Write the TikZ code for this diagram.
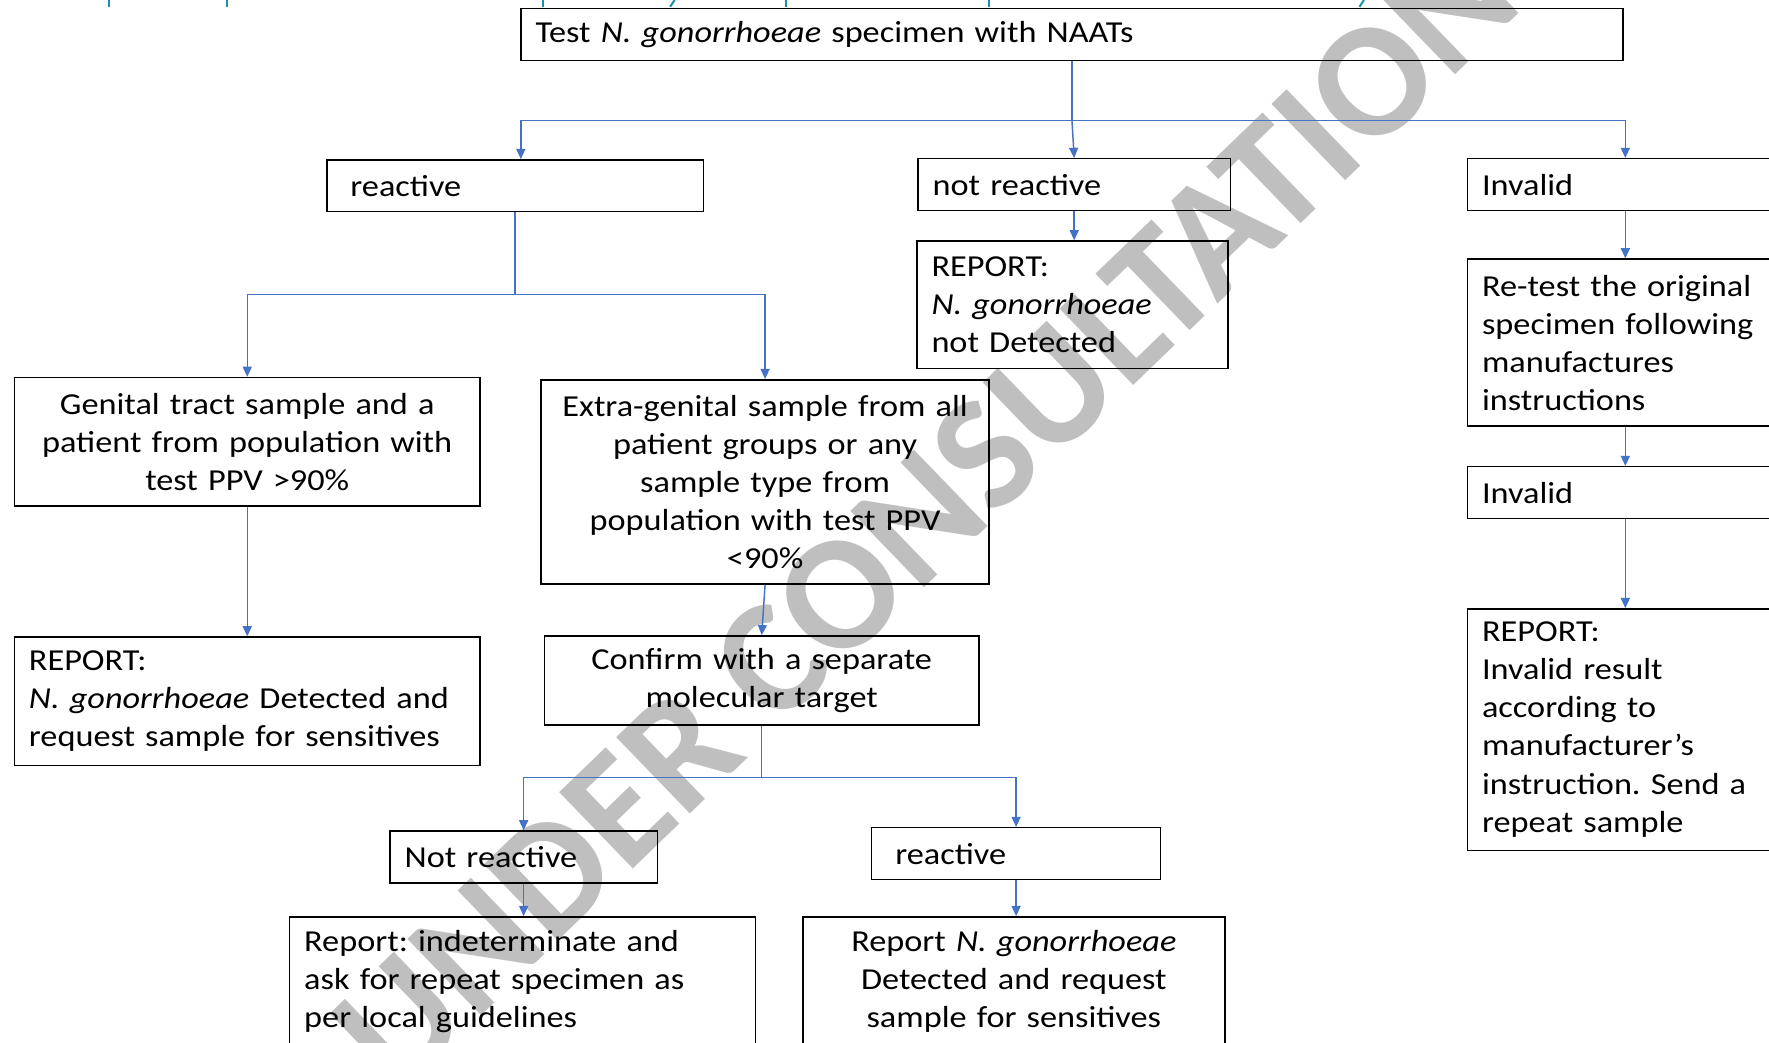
\documentclass[tikz,border=0pt]{standalone}
\usepackage{fontspec}
\setmainfont{Carlito}[FakeStretch=1.125]
\newfontfamily\wmfont{Carlito}
\usetikzlibrary{arrows.meta,calc}
\definecolor{connc}{HTML}{4472C4}
\definecolor{wmc}{HTML}{BFBFBF}
\definecolor{tealc}{HTML}{1A8FB0}
\tikzset{
  box/.style={draw=black, line width=1.3pt, inner xsep=13pt, inner ysep=0pt, anchor=north west,
    font=\fontsize{27}{33.7}\selectfont\frenchspacing},
  lbox/.style={box, align=left},
  cbox/.style={box, align=center},
  conn/.style={draw=connc, line width=1.3pt},
  arr/.style={conn, -{Triangle[width=8pt,length=9pt]}},
  frag/.style={draw=tealc, line width=1.8pt},
}
\begin{document}
\begin{tikzpicture}[x=1pt,y=-1pt]
\clip (0,0) rectangle (1568,924);
\fill[white] (0,0) rectangle (1568,924);
% watermark
\node[text=wmc, rotate=44, font=\wmfont\bfseries\fontsize{145}{145}\selectfont] (wm) at (820,455) {UNDER CONSULTATION};
% teal fragments of a cut-off line
\foreach \x in {97,201,481,697,877} \draw[frag] (\x,0) -- (\x,6);
\draw[frag] (598,0) -- (594,6);
\draw[frag] (1209,0) -- (1205,6);
% boxes
\node[lbox, text width=951pt, minimum height=46pt] (top) at (461,7) {\raisebox{-3pt}{Test \textit{N. gonorrhoeae} specimen with NAATs}};
\node[lbox, text width=308pt, minimum height=46pt] (rea) at (289,141) {\hspace*{8pt}reactive};
\node[lbox, text width=251pt, minimum height=46pt] (notr) at (813,140) {not reactive};
\node[lbox, text width=254pt, minimum height=46pt] (inv1) at (1300,140) {Invalid};
\node[lbox, text width=250pt, minimum height=113pt] (rep1) at (812,213) {REPORT:\\\textit{N. gonorrhoeae}\\not Detected};
\node[lbox, text width=254pt, minimum height=148pt] (retest) at (1300,229) {Re-test the original\\specimen following\\manufactures\\instructions};
\node[lbox, text width=254pt, minimum height=46pt] (inv2) at (1300,413) {Invalid};
\node[lbox, text width=254pt, minimum height=214pt] (rep3) at (1300,539) {REPORT:\\Invalid result\\according to\\manufacturer's\\instruction. Send a\\repeat sample};
\node[cbox, text width=387pt, minimum height=114pt] (gen) at (12,334) {Genital tract sample and a\\patient from population with\\test PPV >90\%};
\node[cbox, text width=371pt, minimum height=181pt] (extra) at (479,336) {Extra-genital sample from all\\patient groups or any\\sample type from\\population with test PPV\\<90\%};
\node[lbox, text width=387pt, minimum height=114pt] (rep2) at (12,564) {REPORT:\\\textit{N. gonorrhoeae} Detected and\\request sample for sensitives};
\node[cbox, text width=359pt, minimum height=79pt] (conf) at (482,563) {Confirm with a separate\\molecular target};
\node[lbox, text width=211pt, minimum height=46pt] (nr) at (345,736) {Not reactive};
\node[lbox, text width=230pt, minimum height=46pt] (r2) at (772,733) {\hspace*{8pt}reactive};
\node[lbox, text width=387pt, minimum height=115pt] (rind) at (256,812) {Report: indeterminate and\\ask for repeat specimen as\\per local guidelines};
\node[cbox, text width=348pt, minimum height=115pt] (rright) at (711,812) {Report \textit{N. gonorrhoeae}\\Detected and request\\sample for sensitives};
% connectors
\coordinate (j1) at (top.south |- 0,107);
\draw[conn] (top.south) -- (j1);
\draw[arr] ($(j1)+(0,0)$) -| ($(rea.north)+(5,0)$);
\draw[arr] (j1) -- (notr.north);
\draw[arr] (j1) -| (inv1.north);
\coordinate (j2) at (rea.south |- 0,261);
\draw[conn] (rea.south) -- (j2);
\draw[arr] (j2) -| (gen.north);
\draw[arr] (j2) -| (extra.north);
\draw[arr] (notr.south) -- (notr.south |- rep1.north);
\draw[arr] (inv1.south) -- (retest.north);
\draw[arr] (retest.south) -- (inv2.north);
\draw[arr] (inv2.south) -- (rep3.north);
\draw[arr] (gen.south) -- (rep2.north);
\draw[arr] (extra.south) -- (conf.north);
\coordinate (j3) at (conf.south |- 0,689);
\draw[conn] (conf.south) -- (j3);
\draw[arr] (j3) -| (nr.north);
\draw[arr] (j3) -| (r2.north);
\draw[arr] (nr.south) -- (nr.south |- rind.north);
\draw[arr] (r2.south) -- (r2.south |- rright.north);
\end{tikzpicture}
\end{document}
